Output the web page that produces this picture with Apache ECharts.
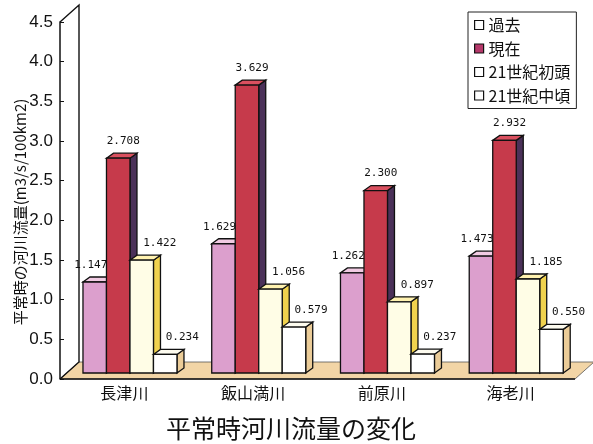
<!DOCTYPE html>
<html>
<head>
<meta charset="utf-8">
<script src="https://cdn.jsdelivr.net/npm/echarts@6/dist/echarts.min.js"></script>
<style>
  html, body { margin: 0; padding: 0; background: #fff; }
  #chart { width: 593px; height: 444px; }
</style>
</head>
<body>
<div id="chart"></div>
<script>
// River names (categories)
const categories = ['長津川', '飯山満川', '前原川', '海老川'];
// Normal-time river flow (m3/s/100km2) per period
const seriesNames = ['過去', '現在', '21世紀初頭', '21世紀中頃'];
const pastValues = [1.147, 1.629, 1.262, 1.473];
const presentValues = [2.708, 3.629, 2.300, 2.932];
const earlyValues = [1.422, 1.056, 0.897, 1.185];
const midValues = [0.234, 0.579, 0.237, 0.550];
const yTickLabels = ['0.0', '0.5', '1.0', '1.5', '2.0', '2.5', '3.0', '3.5', '4.0', '4.5'];

// face colours: front / top / side
const palettes = [
  { front: '#dc9fcd', top: '#f1cbe3', side: '#9a6fa8', legend: '#ffffff' },
  { front: '#c63a4b', top: '#d9505f', side: '#4b3159', legend: '#b5386a' },
  { front: '#fffde6', top: '#fff2b0', side: '#f0d24e', legend: '#ffffff' },
  { front: '#ffffff', top: '#fdfbef', side: '#ebcc98', legend: '#ffffff' }
];
const labelShift = [-4, 5, 18, 17];

// 3D look parameters
const BAR_DX = 7, BAR_DY = -5;     // bar depth
const SHIFT_X = 5.6, SHIFT_Y = -6; // bars sit mid-depth on the floor
const WALL_DX = 19, WALL_DY = -17; // floor / wall depth

const chart = echarts.init(document.getElementById('chart'), null, { renderer: 'canvas' });

function barRenderer(idx) {
  const pal = palettes[idx];
  return function (params, api) {
    const cat = api.value(0);
    const val = api.value(1);
    const topPt = api.coord([cat, val]);
    const basePt = api.coord([cat, 0]);
    const band = api.size([1, 0])[0];
    const groupW = band * 0.73;
    const barW = groupW / 4;
    const x0 = topPt[0] - groupW / 2 + idx * barW + SHIFT_X;
    const x1 = x0 + barW;
    const yT = topPt[1] + SHIFT_Y;
    const yB = basePt[1] + SHIFT_Y;
    const line = { stroke: '#111', lineWidth: 1.3 };
    return {
      type: 'group',
      children: [
        {
          type: 'polygon',
          shape: { points: [[x1, yT], [x1 + BAR_DX, yT + BAR_DY], [x1 + BAR_DX, yB + BAR_DY], [x1, yB]] },
          style: Object.assign({ fill: pal.side }, line)
        },
        {
          type: 'polygon',
          shape: { points: [[x0, yT], [x0 + BAR_DX, yT + BAR_DY], [x1 + BAR_DX, yT + BAR_DY], [x1, yT]] },
          style: Object.assign({ fill: pal.top }, line)
        },
        {
          type: 'rect',
          shape: { x: x0, y: yT, width: barW, height: yB - yT },
          style: Object.assign({ fill: pal.front }, line)
        },
        {
          type: 'text',
          style: {
            x: x0 + barW / 2 + labelShift[idx],
            y: yT + BAR_DY - 12,
            text: val.toFixed(3),
            align: 'center',
            verticalAlign: 'middle',
            font: '11px "DejaVu Sans Mono"',
            fill: '#111'
          }
        }
      ]
    };
  };
}

function frameRenderer(params, api) {
  const cs = params.coordSys;
  const gx = cs.x, gy = cs.y, gw = cs.width;
  const y0 = api.coord([0, 0])[1];
  return {
    type: 'group',
    children: [
      {
        type: 'polygon',
        shape: { points: [[gx, y0], [gx + gw, y0], [gx + gw + WALL_DX, y0 + WALL_DY], [gx + WALL_DX, y0 + WALL_DY]] },
        style: { fill: '#f2d5a6', stroke: '#555', lineWidth: 0.8 }
      },
      {
        type: 'line',
        shape: { x1: gx, y1: y0, x2: gx + gw, y2: y0 },
        style: { stroke: '#111', lineWidth: 1.6 }
      },
      {
        type: 'polyline',
        shape: { points: [[gx, gy], [gx + WALL_DX, gy + WALL_DY], [gx + WALL_DX, y0 + WALL_DY], [gx, y0]] },
        style: { stroke: '#111', lineWidth: 1.4, fill: null }
      }
    ]
  };
}

const valueSets = [pastValues, presentValues, earlyValues, midValues];

const series = [{
  type: 'custom',
  name: 'frame',
  renderItem: frameRenderer,
  data: [[0, 0]],
  silent: true,
  z: 1
}].concat(valueSets.map(function (vals, i) {
  return {
    type: 'custom',
    name: seriesNames[i],
    renderItem: barRenderer(i),
    data: vals.map(function (v, c) { return [c, v]; }),
    itemStyle: { color: palettes[i].legend },
    z: 2 + i
  };
}));

chart.setOption({
  backgroundColor: '#ffffff',
  animation: false,
  title: {
    text: '平常時河川流量の変化',
    left: 161,
    top: 411,
    textStyle: { fontSize: 25, fontWeight: 'normal', color: '#111', fontFamily: '"Noto Sans CJK JP"' }
  },
  legend: {
    orient: 'vertical',
    left: 468,
    top: 12,
    padding: [5, 6, 5, 6],
    itemGap: 7.5,
    itemWidth: 9,
    itemHeight: 9,
    borderColor: '#222',
    borderWidth: 1,
    borderRadius: 0,
    textStyle: { fontSize: 16, color: '#111', fontFamily: '"Noto Sans CJK JP"' },
    data: seriesNames.map(function (n, i) {
      return { name: n, icon: 'rect', itemStyle: { color: palettes[i].legend, borderColor: '#111', borderWidth: 1.2 } };
    })
  },
  grid: { left: 60, right: 18, top: 22, bottom: 65 },
  xAxis: {
    type: 'category',
    data: categories,
    axisLine: { show: false },
    axisTick: { show: false },
    axisLabel: { margin: 6, fontSize: 16, color: '#111', fontFamily: '"Noto Sans CJK JP"' }
  },
  yAxis: {
    type: 'value',
    min: 0,
    max: 4.5,
    interval: 0.5,
    axisLine: { show: true, lineStyle: { color: '#111', width: 1.5 } },
    axisTick: { show: true, inside: true, length: 4, lineStyle: { color: '#111' } },
    splitLine: { show: false },
    axisLabel: {
      margin: 7,
      fontSize: 17,
      color: '#111',
      fontFamily: '"Liberation Sans"',
      formatter: function (v) { return yTickLabels[Math.round(v / 0.5)]; }
    }
  },
  graphic: [{
    type: 'text',
    x: 20,
    y: 212,
    rotation: Math.PI / 2,
    style: {
      text: '平常時の河川流量(m3/s/100km2)',
      font: '15px "Noto Sans CJK JP"',
      fill: '#111',
      align: 'center',
      verticalAlign: 'middle'
    }
  }],
  series: series
});
</script>
</body>
</html>
